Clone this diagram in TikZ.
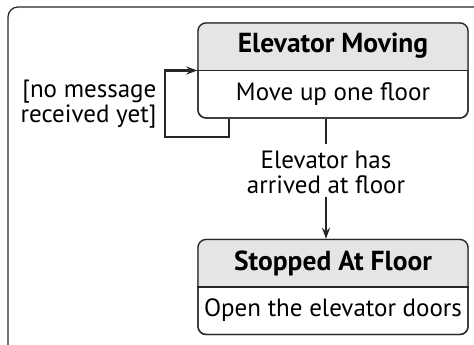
\documentclass[tikz,border=0pt]{standalone}
\usepackage{fontspec}
\setmainfont{PT Sans}
\usetikzlibrary{arrows.meta}

\begin{document}
\begin{tikzpicture}[x=1pt,y=-1pt,line width=1.3pt,
  statebox/.style={draw=black!85,rounded corners=8pt,minimum width=270pt,minimum height=95pt,inner sep=0pt},
  titletext/.style={font=\fontsize{27.5}{27}\selectfont\bfseries},
  bodytext/.style={font=\fontsize{25}{25}\selectfont},
  guardtext/.style={font=\fontsize{25}{25}\selectfont,align=right,inner sep=0pt},
  flow/.style={line width=1.8pt,black!85,-{Stealth[length=11pt,width=8pt]}}]
\clip (0,0) rectangle (474,345);
\useasboundingbox (0,0) rectangle (474,345);
% outer frame
\draw[black!85,line width=1.2pt,rounded corners=10pt] (8,360) -- (8,7) -- (490,7);
% state boxes
\node[statebox] (moving) at (333,70.5) {};
\node[statebox] (stopped) at (333,287) {};
\foreach \s in {moving,stopped}{
  \begin{scope}
    \clip (\s.north west) rectangle (\s.east);
    \fill[black!10,rounded corners=8pt] (\s.north west) rectangle (\s.south east);
  \end{scope}
  \node[statebox] at (\s) {};
  \draw[black!85] (\s.west) -- (\s.east);
}
\node[titletext] (movingtitle) at (333,46) {Elevator Moving};
\node[bodytext] (movingbody) at (333,94) {Move up one floor};
\node[titletext] (stoppedtitle) at (333,263) {Stopped At Floor};
\node[bodytext] (stoppedbody) at (333,310) {Open the elevator doors};
% self transition
\node[guardtext,anchor=east] (guard) at (157,104.5) {[no message\\received yet]};
\draw[flow,line width=2.2pt] ([xshift=32pt]moving.south west) -- ++(0,18) -| ([xshift=-32pt]moving.west) -- (moving.west);
% transition to stopped
\node[guardtext,align=center] (arrived) at (326,172) {Elevator has\\arrived at floor};
\draw[flow,-] ([xshift=-7pt]moving.south) -- ([xshift=-7pt,yshift=-25pt]moving.south);
\draw[flow] ([yshift=-3pt]arrived.south) -- ([xshift=-7pt]stopped.north);
\end{tikzpicture}
\end{document}
